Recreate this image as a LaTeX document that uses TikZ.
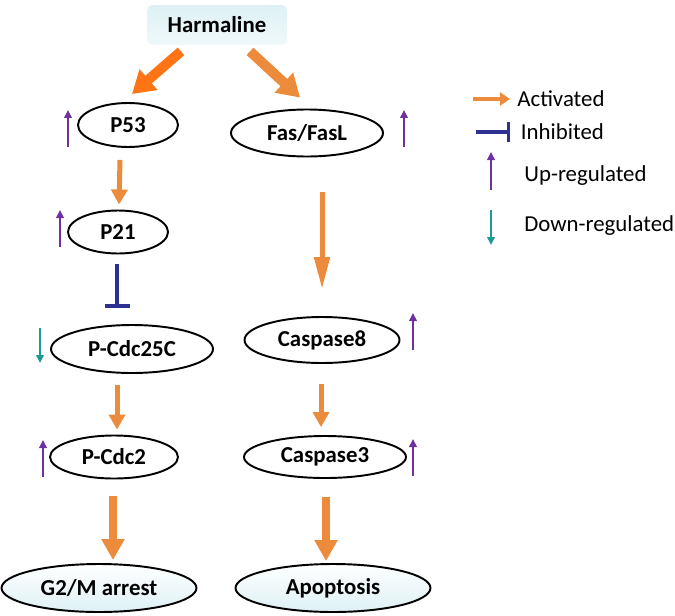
\documentclass[tikz,border=0pt]{standalone}
\usepackage{fontspec}
\setmainfont{Carlito}
\usetikzlibrary{arrows.meta,positioning,calc,shapes.geometric}

\definecolor{actorange}{HTML}{ED8B3C}
\definecolor{hotorange}{HTML}{FF7414}
\definecolor{inhblue}{HTML}{2E3192}
\definecolor{upviolet}{HTML}{7030A0}
\definecolor{downteal}{HTML}{1A9B98}
\definecolor{paleblue}{HTML}{DDF1F4}

\tikzset{
  gene/.style={ellipse,draw,line width=1.1pt,inner sep=0pt,font=\bfseries\fontsize{13}{15}\selectfont},
  fate/.style={gene,top color=white,bottom color=paleblue},
  act/.style={actorange,line width=0.1cm,-{Triangle[length=0.3cm,width=0.32cm]}},
  longact/.style={act,-{Triangle[length=0.64cm,width=0.3cm]}},
  bigact/.style={actorange,line width=0.16cm,-{Triangle[length=0.42cm,width=0.44cm]}},
  harmact/.style={bigact,line width=0.2cm,-{Triangle[length=0.44cm,width=0.52cm]}},
  inhib/.style={inhblue,line width=0.08cm,-{Bar[width=0.5cm]}},
  upreg/.style={upviolet,line width=0.04cm,-{Triangle[length=0.16cm,width=0.15cm]}},
  downreg/.style={upreg,downteal},
  legtext/.style={anchor=west,inner sep=0pt,font=\fontsize{13}{15}\selectfont}
}

\begin{document}
\begin{tikzpicture}[x=0.02cm,y=-0.02cm]
  \useasboundingbox (0,0) rectangle (675,615);

  \node[top color=paleblue,bottom color=paleblue!45,rounded corners=3pt,
        minimum width=2.8cm,minimum height=0.8cm,
        font=\bfseries\fontsize{13}{15}\selectfont] (harmaline) at (217,25) {Harmaline};

  \node[gene,minimum width=2cm,minimum height=0.88cm]    (p53)       at (128,125) {P53};
  \node[gene,minimum width=3.04cm,minimum height=0.94cm] (fas)       at (307,133) {Fas/FasL};
  \node[gene,minimum width=2cm,minimum height=0.86cm]    (p21)       at (118,232) {P21};
  \node[gene,minimum width=3.24cm,minimum height=0.96cm] (pcdc25c)   at (132,349) {P-Cdc25C};
  \node[gene,minimum width=3.1cm,minimum height=0.92cm]  (casp8)     at (322,340) {Caspase8};
  \node[gene,minimum width=2.56cm,minimum height=0.86cm] (pcdc2)     at (114,457) {P-Cdc2};
  \node[gene,minimum width=3.24cm,minimum height=0.84cm] (casp3)     at (325,457) {Caspase3};
  \node[fate,minimum width=3.9cm,minimum height=0.96cm]  (arrest)    at (99,588)  {G2/M arrest};
  \node[fate,minimum width=3.9cm,minimum height=0.96cm]  (apoptosis) at (333,588) {Apoptosis};

  % pathway
  \draw[harmact,hotorange] ($(harmaline.south)+(-36,6)$) -- ($(p53.north)+(4,-8)$);
  \draw[harmact]           ($(harmaline.south)+(33,6)$)  -- ($(fas.north)+(-7,-11)$);
  \draw[act]     ($(p53.south)+(-8,12)$) -- ($(p21.north)+(1,-5)$);
  \draw[inhib]   ($(p21.south)+(-1,10)$) -- ($(p21.south |- pcdc25c.north)+(-1,-16)$);
  \draw[act]     ($(pcdc2.north |- pcdc25c.south)+(3,11)$) -- ($(pcdc2.north)+(3,-5)$);
  \draw[bigact]  ($(pcdc2.south)+(-1,17)$) -- ($(pcdc2.south |- arrest.north)+(-1,-3)$);
  \draw[longact] ($(casp8.north |- fas.south)+(0,35)$) -- ($(casp8.north)+(0,-27)$);
  \draw[act]     ($(casp8.south)+(-1,20)$) -- ($(casp8.south |- casp3.north)+(-1,-8)$);
  \draw[bigact]  ($(casp3.south)+(1,18)$) -- ($(casp3.south |- apoptosis.north)+(1,-2)$);

  % up / down markers
  \foreach \x/\y in {68/147, 404/147, 60/247, 413/350, 43/477, 413/476}
    \draw[upreg] (\x,\y) -- ++(0,-37);
  \draw[downreg] (40,328) -- ++(0,35);

  % legend
  \coordinate (actA) at (473,99);  \coordinate (actB) at (510,99);
  \coordinate (inhA) at (476,132); \coordinate (inhB) at (510,132);
  \coordinate (upA)  at (491,190); \coordinate (upB)  at (491,152);
  \coordinate (dnA)  at (491,210); \coordinate (dnB)  at (491,245);
  \draw[act,line width=0.08cm,-{Triangle[length=0.2cm,width=0.26cm]}] (actA) -- (actB);
  \draw[inhib,line width=0.07cm,-{Bar[width=0.42cm]}] (inhA) -- (inhB);
  \draw[upreg] (upA) -- (upB);
  \draw[downreg] (dnA) -- (dnB);
  \node[legtext,right=4pt of actB] (lact) {Activated};
  \node[legtext,right=6pt of inhB] (linh) {Inhibited};
  \node[legtext] (lup) at (524,176) {Up-regulated};
  \node[legtext] (ldn) at (524,226) {Down-regulated};
\end{tikzpicture}
\end{document}
